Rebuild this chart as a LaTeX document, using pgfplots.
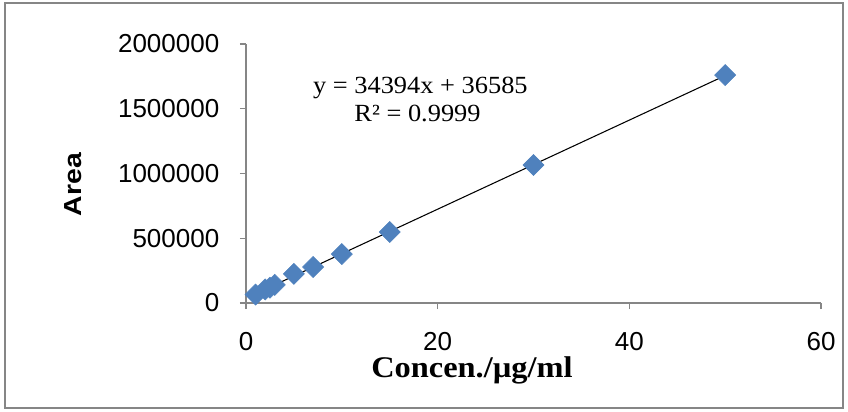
\documentclass[border=0pt]{standalone}
\usepackage{pgfplots}
\pgfplotsset{compat=1.18}
\usepackage{fontspec}
\setmainfont{Liberation Serif}
\setsansfont{Liberation Sans}
\definecolor{axgray}{HTML}{868686}
\definecolor{ptblue}{HTML}{4F81BD}

\begin{document}
\begin{tikzpicture}[x=0.75pt,y=0.75pt]
% page / outer frame (1px = 0.75pt, axis origin at px (246,303))
\path[use as bounding box] (-246,-108) rectangle (602,303);
\draw[axgray, line width=1.1pt] (-241,-105) rectangle (597,300);
\begin{axis}[
	at={(0,0)}, anchor=south west,
	scale only axis,
	width=431.25pt, height=194.25pt,
	xmin=0, xmax=60, ymin=0, ymax=2000000,
	xtick={0,20,40,60},
	ytick={0,500000,1000000,1500000,2000000},
	scaled y ticks=false,
	yticklabel style={/pgf/number format/fixed, /pgf/number format/1000 sep={}, xshift=-12pt},
	xticklabel style={yshift=-14pt},
	/pgf/number format/assume math mode=true,
	axis x line*=bottom, axis y line*=left,
	axis line style={axgray, line width=1pt, -},
	tick align=outside,
	major tick length=4.5pt,
	tick style={axgray, line width=1pt},
	tick label style={font=\sffamily\fontsize{19.5}{21}\selectfont, black},
	clip=false,
]
\addplot[only marks, mark=square*, mark size=5.6pt,
	mark options={rotate=45, fill=ptblue, draw=ptblue}]
	coordinates {
	(1,65000) (2,105000) (2.5,118000) (3,140000) (5,225000) (7,278000)
	(10,378000) (15,548000) (30,1066000) (50,1760000)
	};
\addplot[black, line width=0.8pt] coordinates {(1,70979) (50,1756285)};
\node[anchor=base, inner sep=0pt, font=\fontsize{18.5}{20}\selectfont]
	at (axis cs:18.2,1614000) {\scalebox{1.07}[1]{y = 34394x + 36585}};
\node[anchor=base, inner sep=0pt, font=\fontsize{18.5}{20}\selectfont]
	at (axis cs:17.9,1405000) {\scalebox{1.07}[1]{R² = 0.9999}};
\node[anchor=base, inner sep=0pt, font=\bfseries\fontsize{22.5}{24}\selectfont]
	at (rel axis cs:0.393,-0.286) {\scalebox{1.08}[1]{Concen./µg/ml}};
\node[rotate=90, inner sep=0pt, font=\sffamily\bfseries\fontsize{18.5}{20}\selectfont]
	at (rel axis cs:-0.3,0.4575) {\scalebox{1.15}[1]{Area}};
\end{axis}
\end{tikzpicture}
\end{document}
